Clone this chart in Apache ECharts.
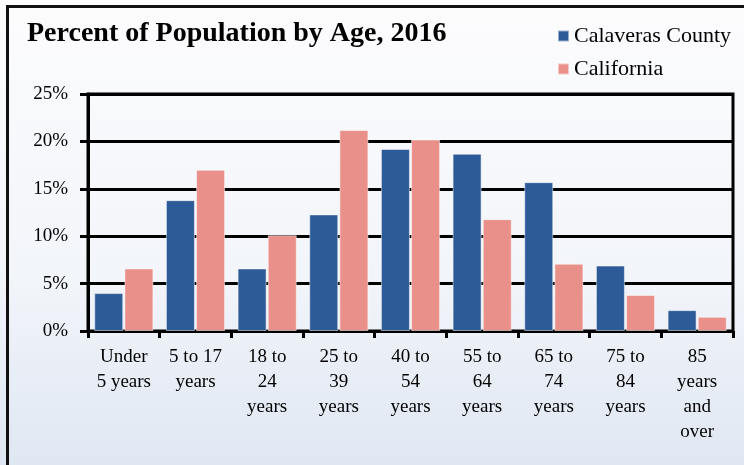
<!DOCTYPE html>
<html>
<head>
<meta charset="utf-8">
<script src="https://cdn.jsdelivr.net/npm/echarts@6/dist/echarts.min.js"></script>
<style>
  html, body { margin: 0; padding: 0; }
  #main { width: 744px; height: 465px; }
</style>
</head>
<body>
<div id="main"></div>
<script>
// 年龄组
const ageGroups = ['Under\n5 years', '5 to 17\nyears', '18 to\n24\nyears', '25 to\n39\nyears', '40 to\n54\nyears',
  '55 to\n64\nyears', '65 to\n74\nyears', '75 to\n84\nyears', '85\nyears\nand\nover'];
const calaveras = [4.0, 13.8, 6.6, 12.3, 19.2, 18.7, 15.7, 6.9, 2.2];
const california = [6.6, 17.0, 10.1, 21.2, 20.2, 11.8, 7.1, 3.8, 1.5];
const yTicks = [0, 5, 10, 15, 20, 25];

const serif = "'Liberation Serif', serif";

var myChart = echarts.init(document.getElementById('main'));
var option;
option = {
    textStyle: { fontFamily: serif },
    backgroundColor: {
        type: 'linear', x: 0, y: 0, x2: 0, y2: 1,
        colorStops: [
            { offset: 0, color: '#fcfcfd' },
            { offset: 0.6, color: '#f2f5fa' },
            { offset: 1, color: '#dfe7f2' }
        ]
    },
    title: {
        text: 'Percent of Population by Age, 2016',
        left: 22,
        top: 15,
        textStyle: { fontFamily: serif, fontSize: 28, fontWeight: 'bold', color: '#000' }
    },
    legend: {
        orient: 'vertical',
        left: 552,
        top: 20,
        itemWidth: 11,
        itemHeight: 11,
        itemGap: 11,
        icon: 'rect',
        textStyle: { fontFamily: serif, fontSize: 22, color: '#000' }
    },
    graphic: [
        {
            type: 'rect',
            shape: { x: 7.5, y: 6.5, width: 800, height: 600 },
            style: { fill: 'none', stroke: '#111', lineWidth: 3 },
            silent: true
        }
    ],
    grid: {
        left: 88,
        right: 11,
        top: 94,
        bottom: 134,
        show: true,
        borderColor: '#000',
        borderWidth: 3,
        backgroundColor: 'transparent'
    },
    xAxis: {
        type: 'category',
        data: ageGroups,
        axisLine: { lineStyle: { color: '#000', width: 3 } },
        axisTick: { show: true, length: 7, lineStyle: { color: '#000', width: 3 } },
        axisLabel: {
            interval: 0,
            margin: 14,
            fontFamily: serif,
            fontSize: 19,
            lineHeight: 25,
            color: '#000'
        }
    },
    yAxis: {
        type: 'value',
        min: yTicks[0],
        max: yTicks[yTicks.length - 1],
        interval: 5,
        axisLine: { show: true, lineStyle: { color: '#000', width: 3 } },
        axisTick: { show: true, length: 8, lineStyle: { color: '#000', width: 3 } },
        axisLabel: {
            formatter: '{value}%',
            margin: 20,
            fontFamily: serif,
            fontSize: 19,
            color: '#000'
        },
        splitLine: { lineStyle: { color: '#000', width: 3 } }
    },
    series: [
        {
            name: 'Calaveras County',
            type: 'bar',
            data: calaveras,
            barWidth: 29,
            barGap: '4%',
            itemStyle: { color: '#2d5b98', borderColor: 'rgba(255,255,255,0.5)', borderWidth: 1 }
        },
        {
            name: 'California',
            type: 'bar',
            data: california,
            barWidth: 29,
            itemStyle: { color: '#e9908a', borderColor: 'rgba(255,255,255,0.5)', borderWidth: 1 }
        }
    ]
};

myChart.setOption(option);
</script>
</body>
</html>
